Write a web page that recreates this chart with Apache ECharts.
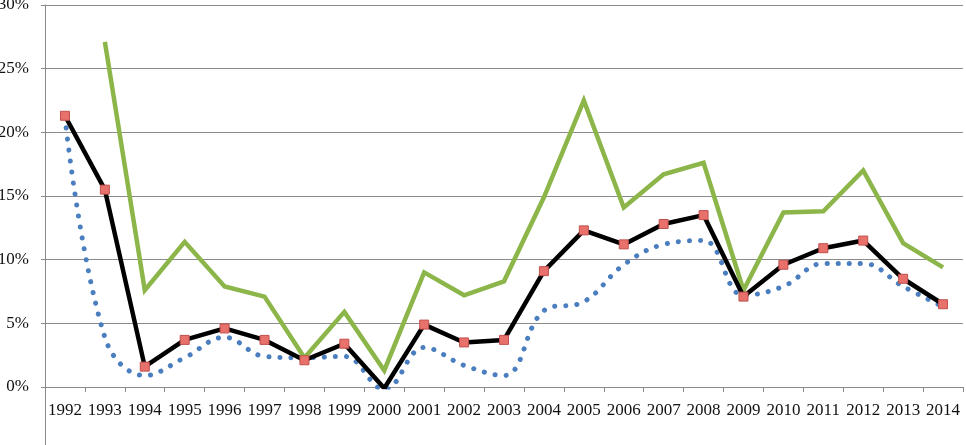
<!DOCTYPE html>
<html>
<head>
<meta charset="utf-8">
<script src="https://cdn.jsdelivr.net/npm/echarts@6/dist/echarts.min.js"></script>
<style>
  html, body { margin: 0; padding: 0; background: #fff; }
  #chart { width: 966px; height: 445px; }
</style>
</head>
<body>
<div id="chart"></div>
<script>
const years = ["1992","1993","1994","1995","1996","1997","1998","1999","2000","2001","2002",
    "2003","2004","2005","2006","2007","2008","2009","2010","2011","2012","2013","2014"];

// values in percent
const greenLine = [null, 27.1, 7.6, 11.4, 7.9, 7.1, 2.3, 5.9, 1.3, 9.0, 7.2,
    8.3, 14.9, 22.5, 14.1, 16.7, 17.6, 7.6, 13.7, 13.8, 17.0, 11.3, 9.4];
const blackLine = [21.3, 15.5, 1.6, 3.7, 4.6, 3.7, 2.1, 3.4, -0.1, 4.9, 3.5,
    3.7, 9.1, 12.3, 11.2, 12.8, 13.5, 7.1, 9.6, 10.9, 11.5, 8.5, 6.5];
const blueDotted = [21.2, 3.9, 0.9, 2.3, 3.9, 2.4, 2.3, 2.4, -0.2, 3.1, 1.7,
    0.9, 6.0, 6.7, 9.6, 11.2, 11.5, 7.2, 7.9, 9.7, 9.7, 7.9, 6.3];

const yTicks = [0, 5, 10, 15, 20, 25, 30];

window.onload = () => {
    const chart = echarts.init(document.querySelector("#chart"));
    const font = "'Liberation Serif', 'Times New Roman', serif";

    chart.setOption({
        animation: false,
        grid: { left: 45, right: 3, top: 5, bottom: 58, containLabel: false, outerBoundsMode: 'none' },
        xAxis: {
            type: 'category',
            data: years,
            boundaryGap: true,
            axisLine: { lineStyle: { color: '#8a8a8a', width: 1 } },
            axisTick: { show: true, length: 5, lineStyle: { color: '#8a8a8a' } },
            axisLabel: { color: '#111', fontFamily: font, fontSize: 17, margin: 15, interval: 0 },
            splitLine: { show: false }
        },
        yAxis: {
            type: 'value',
            min: yTicks[0],
            max: yTicks[yTicks.length - 1],
            interval: 5,
            axisLine: { show: true, lineStyle: { color: '#8a8a8a', width: 1 } },
            axisTick: { show: true, length: 4, lineStyle: { color: '#8a8a8a' } },
            axisLabel: { color: '#111', fontFamily: font, fontSize: 17, margin: 16,
                formatter: v => v + '%' },
            splitLine: { show: true, lineStyle: { color: '#8a8a8a', width: 1 } }
        },
        graphic: [{
            type: 'line',
            shape: { x1: 45.5, y1: 387, x2: 45.5, y2: 445 },
            style: { stroke: '#8a8a8a', lineWidth: 1 }
        }],
        series: [
            {
                name: 'blue',
                type: 'line',
                data: blueDotted,
                smooth: 0.4,
                symbol: 'none',
                lineStyle: { color: '#4a7ebf', width: 5, type: [0.1, 11], cap: 'round' },
                z: 2
            },
            {
                name: 'green',
                type: 'line',
                data: greenLine,
                symbol: 'none',
                lineStyle: { color: '#8cb64a', width: 4.5, join: 'miter' },
                z: 3
            },
            {
                name: 'black',
                type: 'line',
                data: blackLine,
                symbol: 'rect',
                symbolSize: 9,
                itemStyle: { color: '#e8716c', borderColor: '#c0504d', borderWidth: 1 },
                lineStyle: { color: '#000', width: 4.5 },
                z: 4
            }
        ]
    });
};
</script>
</body>
</html>
